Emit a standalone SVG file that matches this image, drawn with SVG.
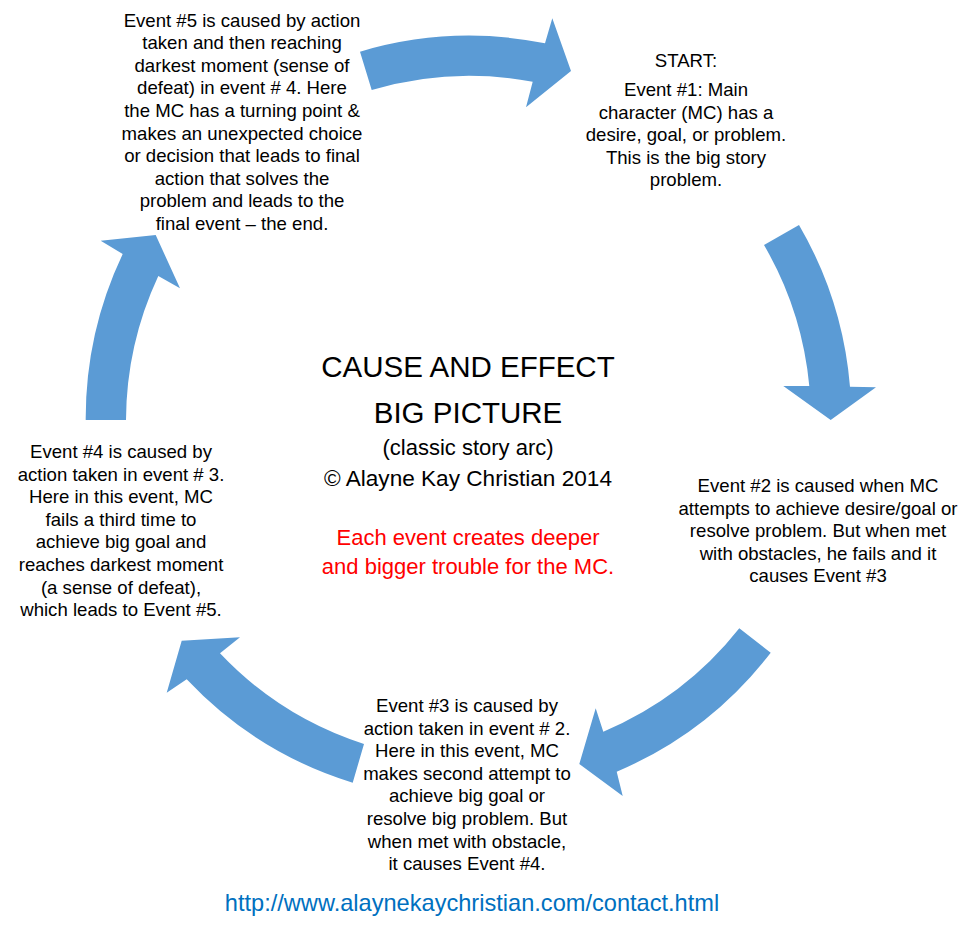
<svg xmlns="http://www.w3.org/2000/svg" width="980" height="935" viewBox="0 0 980 935">
<style>
  .arrow { fill: #5B9BD5; stroke: none; }
  .body { font-family: "Liberation Sans", Arial, sans-serif; font-size: 18.6px; fill: #000000; text-anchor: middle; }
  .title { font-family: "Liberation Sans", Arial, sans-serif; font-size: 29.5px; fill: #000000; text-anchor: middle; }
  .sub { font-family: "Liberation Sans", Arial, sans-serif; font-size: 22px; fill: #000000; text-anchor: middle; }
  .red { font-family: "Liberation Sans", Arial, sans-serif; font-size: 22px; fill: #FF0000; text-anchor: middle; }
  .url { font-family: "Liberation Sans", Arial, sans-serif; font-size: 23.6px; fill: #0070C0; text-anchor: middle; }
</style>
<rect x="0" y="0" width="980" height="935" fill="#FFFFFF"/>
<g id="connectors">
  <path id="arrow-1-2" class="arrow" d="M 360,51.7 A 384 384 0 0 1 545,43.3 L 552.3,18.3 L 571,71 L 526,107.3 L 532.7,81.7 A 344 344 0 0 0 371.7,90 Z"/>
  <path id="arrow-2-3" class="arrow" d="M 799,225 A 384 384 0 0 1 850,386.7 L 876,387.3 L 830.7,420 L 783.3,386 L 809.3,386 A 344 344 0 0 0 764,245 Z"/>
  <path id="arrow-3-4" class="arrow" d="M 770.7,652.7 A 383 383 0 0 1 616.7,771.7 L 622.7,796 L 579.3,764 L 595.7,708.3 L 603.3,731.7 A 343 343 0 0 0 739.3,628.3 Z"/>
  <path id="arrow-4-5" class="arrow" d="M 352.7,782.7 A 383 383 0 0 1 186.7,679.3 L 166.7,692.7 L 181.7,640.7 L 240,637.3 L 220,653.3 A 343 343 0 0 0 364,744 Z"/>
  <path id="arrow-5-1" class="arrow" d="M 85.7,420 A 384 384 0 0 1 122.7,254 L 100.7,240.7 L 155.7,235 L 180,288.3 L 158.3,276 A 344 344 0 0 0 126,420 Z"/>
</g>
<g id="event1">
  <text class="body" x="686" y="67">START:</text>
  <text class="body" x="686" y="96">Event #1: Main</text>
  <text class="body" x="686" y="118.6">character (MC) has a</text>
  <text class="body" x="686" y="141.2">desire, goal, or problem.</text>
  <text class="body" x="686" y="163.8">This is the big story</text>
  <text class="body" x="686" y="186.4">problem.</text>
</g>
<g id="event2">
  <text class="body" x="818" y="492">Event #2 is caused when MC</text>
  <text class="body" x="818" y="514.6">attempts to achieve desire/goal or</text>
  <text class="body" x="818" y="537.2">resolve problem. But when met</text>
  <text class="body" x="818" y="559.8">with obstacles, he fails and it</text>
  <text class="body" x="818" y="582.4">causes Event #3</text>
</g>
<g id="event3">
  <text class="body" x="467" y="712">Event #3 is caused by</text>
  <text class="body" x="467" y="734.6">action taken in event # 2.</text>
  <text class="body" x="467" y="757.2">Here in this event, MC</text>
  <text class="body" x="467" y="779.8">makes second attempt to</text>
  <text class="body" x="467" y="802.4">achieve big goal or</text>
  <text class="body" x="467" y="825">resolve big problem. But</text>
  <text class="body" x="467" y="847.6">when met with obstacle,</text>
  <text class="body" x="467" y="870.2">it causes Event #4.</text>
</g>
<g id="event4">
  <text class="body" x="121" y="458">Event #4 is caused by</text>
  <text class="body" x="121" y="480.6">action taken in event # 3.</text>
  <text class="body" x="121" y="503.2">Here in this event, MC</text>
  <text class="body" x="121" y="525.8">fails a third time to</text>
  <text class="body" x="121" y="548.4">achieve big goal and</text>
  <text class="body" x="121" y="571">reaches darkest moment</text>
  <text class="body" x="121" y="593.6">(a sense of defeat),</text>
  <text class="body" x="121" y="616.2">which leads to Event #5.</text>
</g>
<g id="event5">
  <text class="body" x="242" y="26.5">Event #5 is caused by action</text>
  <text class="body" x="242" y="49.1">taken and then reaching</text>
  <text class="body" x="242" y="71.7">darkest moment (sense of</text>
  <text class="body" x="242" y="94.3">defeat) in event # 4. Here</text>
  <text class="body" x="242" y="116.9">the MC has a turning point &amp;</text>
  <text class="body" x="242" y="139.5">makes an unexpected choice</text>
  <text class="body" x="242" y="162.1">or decision that leads to final</text>
  <text class="body" x="242" y="184.7">action that solves the</text>
  <text class="body" x="242" y="207.3">problem and leads to the</text>
  <text class="body" x="242" y="229.9">final event – the end.</text>
</g>
<g id="center">
  <text class="title" x="468" y="377">CAUSE AND EFFECT</text>
  <text class="title" x="468" y="423">BIG PICTURE</text>
  <text class="sub" x="468" y="455">(classic story arc)</text>
  <text class="sub" x="468" y="486" style="font-size:22.6px">© Alayne Kay Christian 2014</text>
  <text class="red" x="468" y="545">Each event creates deeper</text>
  <text class="red" x="468" y="574">and bigger trouble for the MC.</text>
</g>
<g id="url">
  <text class="url" x="472" y="911">http://www.alaynekaychristian.com/contact.html</text>
</g>
</svg>
